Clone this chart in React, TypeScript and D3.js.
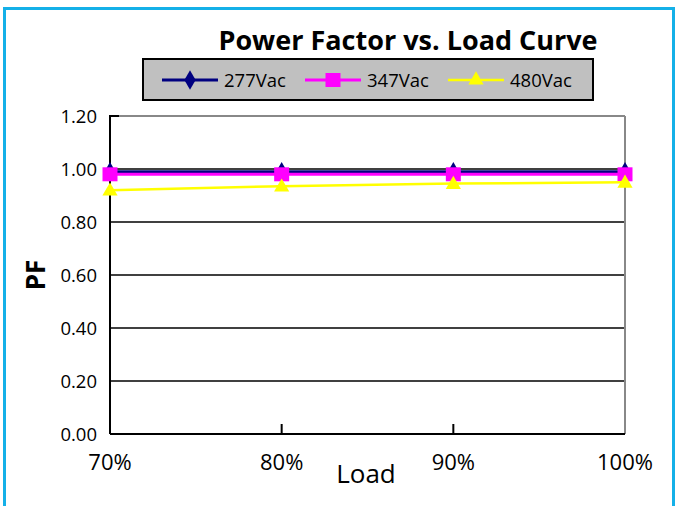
import * as React from 'react'
import * as d3 from 'd3'

const loads = ['70%', '80%', '90%', '100%']
const pf277 = [0.99, 0.99, 0.99, 0.99]
const pf347 = [0.98, 0.98, 0.98, 0.98]
const pf480 = [0.92, 0.935, 0.945, 0.95]
const yTicks = [0, 0.2, 0.4, 0.6, 0.8, 1.0, 1.2]

const series = [
    { name: '277Vac', values: pf277, color: '#000080', marker: 'diamond', width: 3 },
    { name: '347Vac', values: pf347, color: '#ff00ff', marker: 'square', width: 3 },
    { name: '480Vac', values: pf480, color: '#ffff00', marker: 'triangle', width: 2.5 },
]

const font = '"Open Sans", sans-serif'
const W = 681
const H = 506
const margin = { left: 110, top: 116, right: 56, bottom: 72 }

const symbolPath = (marker: string) => {
    if (marker === 'diamond') return d3.symbol(d3.symbolDiamond, 110)()
    if (marker === 'square') return 'M-7.5,-7 H7.5 V7 H-7.5 Z'
    return d3.symbol(d3.symbolTriangle, 100)()
}

export default function App() {
    const x = d3.scalePoint<string>()
        .domain(loads)
        .range([margin.left, W - margin.right])
    const y = d3.scaleLinear()
        .domain([0, 1.2])
        .range([H - margin.bottom, margin.top])

    const line = d3.line<number>()
        .x((_, i) => x(loads[i]) as number)
        .y(d => y(d))

    const x0 = x.range()[0]
    const x1 = x.range()[1]

    return (
        <svg width={W} height={H} style={{ position: 'absolute', left: 0, top: 0 }}>
            <rect x={0} y={0} width={W} height={H} fill='#fff' />
            <rect x={4.5} y={8.5} width={669} height={510} fill='none' stroke='#14b0e8' strokeWidth={3} />

            {/* title */}
            <text x={408} y={50} textAnchor='middle' fontFamily={font} fontWeight='bold' fontSize={27}>
                Power Factor vs. Load Curve
            </text>

            {/* legend */}
            <rect x={143} y={59} width={450} height={41} fill='#c0c0c0' stroke='#000' strokeWidth={2} />
            {series.map((s, i) => {
                const lx = 162 + i * 143
                const lw = 56
                return (
                    <g key={s.name}>
                        <line x1={lx} x2={lx + lw} y1={80} y2={80} stroke={s.color} strokeWidth={s.width} />
                        <path d={symbolPath(s.marker)} transform={`translate(${lx + lw / 2},80)`} fill={s.color} />
                        <text x={lx + lw + 6} y={86.5} fontFamily={font} fontSize={18.5}>{s.name}</text>
                    </g>
                )
            })}

            {/* grid */}
            {yTicks.slice(1, -1).map(t => (
                <line key={t} x1={x0} x2={x1} y1={y(t)} y2={y(t)} stroke='#000' strokeWidth={1.5} />
            ))}
            <line x1={x0} x2={x1} y1={y(1.2)} y2={y(1.2)} stroke='#888' strokeWidth={2} />
            <line x1={x1} x2={x1} y1={y(1.2)} y2={y(0)} stroke='#888' strokeWidth={2} />
            <line x1={x0} x2={x0 + 9} y1={y(1.2)} y2={y(1.2)} stroke='#000' strokeWidth={2} />

            {/* axes */}
            <line x1={x0} x2={x0} y1={y(1.2) - 1} y2={y(0)} stroke='#000' strokeWidth={2} />
            <line x1={x0} x2={x1} y1={y(0)} y2={y(0)} stroke='#000' strokeWidth={2} />
            {loads.slice(1, -1).map(l => (
                <line key={l} x1={x(l)} x2={x(l)} y1={y(0)} y2={y(0) - 10} stroke='#000' strokeWidth={2} />
            ))}

            {yTicks.map(t => (
                <text key={t} x={97} y={y(t) + 6.5} textAnchor='end' fontFamily={font} fontSize={18.5}>
                    {t.toFixed(2)}
                </text>
            ))}
            {loads.map(l => (
                <text key={l} x={x(l)} y={470} textAnchor='middle' fontFamily={font} fontSize={22}>{l}</text>
            ))}

            <text x={366} y={483} textAnchor='middle' fontFamily={font} fontSize={26}>Load</text>
            <text transform={`translate(45,275) rotate(-90)`} textAnchor='middle' fontFamily={font}
                fontWeight='bold' fontSize={26}>PF</text>

            {/* series */}
            {series.map(s => (
                <g key={s.name}>
                    <path d={line(s.values) as string} fill='none' stroke={s.color} strokeWidth={s.width} />
                    {s.values.map((v, i) => (
                        <path key={i} d={symbolPath(s.marker)}
                            transform={`translate(${x(loads[i])},${y(v) + (s.marker === 'triangle' ? 1 : 0)})`}
                            fill={s.color} />
                    ))}
                </g>
            ))}
        </svg>
    )
}
